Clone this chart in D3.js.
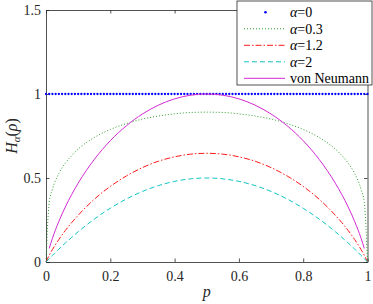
<!DOCTYPE html>
<html>
<head>
<meta charset="utf-8">
<script src="https://cdn.jsdelivr.net/npm/d3@7"></script>
<style>
  body { margin: 0; background: #fff; }
  svg { display: block; }
  svg text { font-family: "Times New Roman", "Liberation Serif", Times, "DejaVu Serif", serif; }
  .axis text { font-size: 14px; fill: #262626; }
  .axis path, .axis line { stroke: #262626; stroke-width: 0.8; }
</style>
</head>
<body>
<div class="chart"></div>
<script>
// sample points of p (shared by the curves)
const pValues = [0, 0.01, 0.02, 0.04, 0.06, 0.08, 0.1, 0.15, 0.2, 0.25, 0.3, 0.35, 0.4, 0.45, 0.5,
  0.55, 0.6, 0.65, 0.7, 0.75, 0.8, 0.85, 0.9, 0.92, 0.94, 0.96, 0.98, 0.99, 1];
const alpha03 = [0, 0.355, 0.433, 0.527, 0.588, 0.634, 0.672, 0.741, 0.789, 0.824, 0.851, 0.869, 0.882, 0.890, 0.892,
  0.890, 0.882, 0.869, 0.851, 0.824, 0.789, 0.741, 0.672, 0.634, 0.588, 0.527, 0.433, 0.355, 0];
const alpha12 = [0, 0.040, 0.074, 0.134, 0.187, 0.235, 0.278, 0.373, 0.450, 0.512, 0.562, 0.600, 0.626, 0.642, 0.647,
  0.642, 0.626, 0.600, 0.562, 0.512, 0.450, 0.373, 0.278, 0.235, 0.187, 0.134, 0.074, 0.040, 0];
const alpha2 = [0, 0.020, 0.039, 0.077, 0.113, 0.147, 0.180, 0.255, 0.320, 0.375, 0.420, 0.455, 0.480, 0.495, 0.500,
  0.495, 0.480, 0.455, 0.420, 0.375, 0.320, 0.255, 0.180, 0.147, 0.113, 0.077, 0.039, 0.020, 0];
const vonNeumann = [null, 0.081, 0.141, 0.242, 0.327, 0.402, 0.469, 0.610, 0.722, 0.811, 0.881, 0.934, 0.971, 0.993, 1.000,
  0.993, 0.971, 0.934, 0.881, 0.811, 0.722, 0.610, 0.469, 0.402, 0.327, 0.242, 0.141, 0.081, null];
// alpha = 0 is drawn as dots every 0.01, all at the same height
const alpha0Step = 0.01;
const alpha0Value = 1;

const xTicks = [0, 0.2, 0.4, 0.6, 0.8, 1];
const yTicks = [0, 0.5, 1, 1.5];
const legendNames = ['0', '0.3', '1.2', '2', 'von Neumann'];

const width = 373;
const height = 304;
const plotLeft = 46, plotRight = 367.5, plotTop = 10, plotBottom = 262;

const svg = d3.select('.chart').append('svg')
  .attr('width', width)
  .attr('height', height);

const x = d3.scaleLinear().domain([0, 1]).range([plotLeft, plotRight]);
const y = d3.scaleLinear().domain([0, 1.5]).range([plotBottom, plotTop]);

// axes (box with inward ticks, like matlab)
function styleAxis(g) {
  g.attr('font-family', null).attr('font-size', null);
}
svg.append('g').attr('class', 'axis')
  .attr('transform', `translate(0,${plotBottom})`)
  .call(d3.axisBottom(x).tickValues(xTicks).tickFormat(d3.format('')).tickSizeInner(-3.5).tickSizeOuter(0).tickPadding(9))
  .call(styleAxis);
svg.append('g').attr('class', 'axis')
  .attr('transform', `translate(0,${plotTop})`)
  .call(d3.axisTop(x).tickValues(xTicks).tickFormat('').tickSizeInner(-3.5).tickSizeOuter(0));
svg.append('g').attr('class', 'axis')
  .attr('transform', `translate(${plotLeft},0)`)
  .call(d3.axisLeft(y).tickValues(yTicks).tickFormat(d3.format('')).tickSizeInner(-3.5).tickSizeOuter(0).tickPadding(5))
  .call(styleAxis);
svg.append('g').attr('class', 'axis')
  .attr('transform', `translate(${plotRight},0)`)
  .call(d3.axisRight(y).tickValues(yTicks).tickFormat('').tickSizeInner(-3.5).tickSizeOuter(0));

// axis labels
svg.append('text')
  .attr('x', (plotLeft + plotRight) / 2)
  .attr('y', 297)
  .style('text-anchor', 'middle')
  .style('font-size', '16px')
  .style('font-style', 'italic')
  .attr('fill', '#262626')
  .text('p');

const yLabel = svg.append('text')
  .attr('transform', `translate(17,${(plotTop + plotBottom) / 2}) rotate(-90)`)
  .style('text-anchor', 'middle')
  .style('font-size', '16px')
  .attr('fill', '#262626');
yLabel.append('tspan').style('font-style', 'italic').text('H');
yLabel.append('tspan').style('font-style', 'italic').style('font-size', '11px').attr('dy', 3).text('α');
yLabel.append('tspan').attr('dy', -3).text('(');
yLabel.append('tspan').style('font-style', 'italic').text('ρ');
yLabel.append('tspan').text(')');

// curves
const series = [
  {values: alpha03, color: '#2e9e2e', dash: '1,2'},
  {values: alpha12, color: '#ff1a1a', dash: '6,2,1.5,2'},
  {values: alpha2, color: '#10c4c4', dash: '5,3'},
  {values: vonNeumann, color: '#d22ad2', dash: null}
];

const line = d3.line()
  .defined((d) => d[1] != null)
  .x((d) => x(d[0]))
  .y((d) => y(d[1]))
  .curve(d3.curveMonotoneX);

const alpha0P = d3.range(0, 1 + alpha0Step / 2, alpha0Step);
svg.append('g').selectAll('circle')
  .data(alpha0P)
  .enter()
  .append('circle')
    .attr('cx', (d) => x(d))
    .attr('cy', y(alpha0Value))
    .attr('r', 1.15)
    .attr('fill', '#0000ff');

series.forEach((s) => {
  svg.append('path')
    .datum(pValues.map((p, i) => [p, s.values[i]]))
    .attr('d', line)
    .attr('fill', 'none')
    .attr('stroke', s.color)
    .attr('stroke-width', 1)
    .attr('stroke-dasharray', s.dash);
});

// legend
const legend = svg.append('g');
legend.append('rect')
  .attr('x', 237).attr('y', 1)
  .attr('width', 135).attr('height', 84)
  .attr('fill', '#fff')
  .attr('stroke', '#262626')
  .attr('stroke-width', 0.8);

const legendRows = legend.selectAll('.legend-row')
  .data(legendNames)
  .enter()
  .append('g')
    .attr('transform', (d, i) => `translate(0,${12.3 + i * 16.5})`);

legendRows.each(function(d, i) {
  const row = d3.select(this);
  if (i === 0) {
    row.append('circle').attr('cx', 265.5).attr('cy', 0).attr('r', 1.3).attr('fill', '#0000ff');
  } else {
    const s = series[i - 1];
    row.append('line')
      .attr('x1', 244).attr('x2', 285)
      .attr('y1', 0).attr('y2', 0)
      .attr('stroke', s.color)
      .attr('stroke-width', 1)
      .attr('stroke-dasharray', s.dash);
  }
  const t = row.append('text')
    .attr('x', 290)
    .attr('y', 5)
    .style('font-size', '14px')
    .attr('fill', '#000');
  if (i < 4) {
    t.append('tspan').style('font-style', 'italic').text('α');
    t.append('tspan').text('=' + d);
  } else {
    t.text(d);
  }
});
</script>
</body>
</html>
